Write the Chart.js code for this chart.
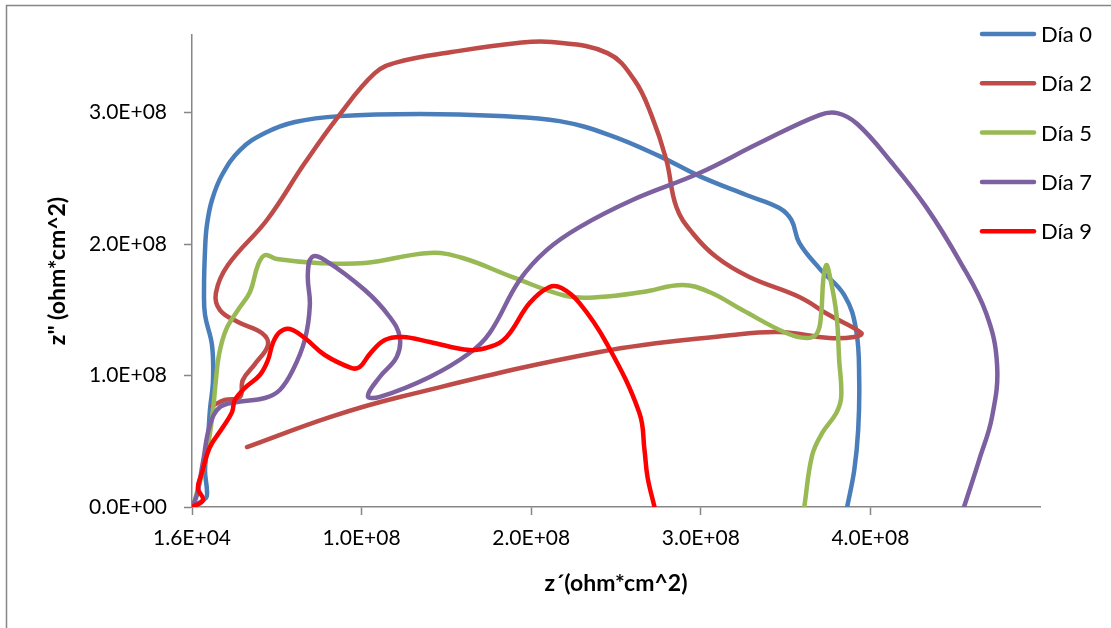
<!DOCTYPE html>
<html>
<head>
<meta charset="utf-8">
<script src="https://cdn.jsdelivr.net/npm/chart.js@4.4.1/dist/chart.umd.min.js"></script>
<style>
    html, body { margin: 0; padding: 0; background: #ffffff; }
    #chart { display: block; }
</style>
</head>
<body>
<canvas id="chart" width="1111" height="628"></canvas>
<script>
// Nyquist data: z' (x) and z" (y), ohm*cm^2
const seriesNames = ['Día 0', 'Día 2', 'Día 5', 'Día 7', 'Día 9'];
const seriesColors = ['#4a7ebb', '#be4b48', '#98b954', '#7d60a0', '#ff0000'];

const dia0X = [0.006e8, 0.082e8, 0.088e8, 0.077e8, 0.094e8, 0.106e8, 0.124e8, 0.118e8, 0.077e8, 0.071e8, 0.077e8, 0.088e8, 0.118e8, 0.177e8, 0.283e8, 0.430e8, 0.607e8, 0.872e8, 1.343e8, 1.814e8, 2.167e8, 2.462e8, 2.756e8, 2.992e8, 3.269e8, 3.463e8, 3.534e8, 3.581e8, 3.698e8, 3.846e8, 3.916e8, 3.934e8, 3.928e8, 3.905e8, 3.863e8];
const dia0Y = [0.008e8, 0.068e8, 0.129e8, 0.281e8, 0.510e8, 0.738e8, 0.966e8, 1.232e8, 1.460e8, 1.650e8, 1.954e8, 2.144e8, 2.335e8, 2.525e8, 2.715e8, 2.844e8, 2.928e8, 2.973e8, 2.989e8, 2.973e8, 2.935e8, 2.829e8, 2.669e8, 2.517e8, 2.373e8, 2.274e8, 2.183e8, 2.008e8, 1.817e8, 1.612e8, 1.346e8, 0.966e8, 0.586e8, 0.281e8, 0];

const dia2X = [0.118e8, 0.194e8, 0.283e8, 0.300e8, 0.371e8, 0.448e8, 0.412e8, 0.271e8, 0.165e8, 0.141e8, 0.212e8, 0.442e8, 0.665e8, 0.860e8, 1.078e8, 1.213e8, 1.531e8, 1.920e8, 2.120e8, 2.450e8, 2.609e8, 2.709e8, 2.797e8, 2.856e8, 2.951e8, 3.092e8, 3.286e8, 3.581e8, 3.757e8, 3.946e8, 3.905e8, 3.757e8, 3.463e8, 3.186e8, 2.403e8, 1.225e8, 0.813e8, 0.324e8];
const dia2Y = [0.768e8, 0.814e8, 0.837e8, 0.966e8, 1.087e8, 1.232e8, 1.323e8, 1.407e8, 1.498e8, 1.627e8, 1.840e8, 2.183e8, 2.616e8, 2.966e8, 3.300e8, 3.384e8, 3.460e8, 3.529e8, 3.536e8, 3.452e8, 3.247e8, 2.981e8, 2.639e8, 2.281e8, 2.084e8, 1.901e8, 1.749e8, 1.597e8, 1.460e8, 1.323e8, 1.293e8, 1.285e8, 1.331e8, 1.308e8, 1.179e8, 0.837e8, 0.684e8, 0.456e8];

const dia5X = [0.012e8, 0.065e8, 0.100e8, 0.124e8, 0.141e8, 0.159e8, 0.200e8, 0.271e8, 0.342e8, 0.389e8, 0.430e8, 0.501e8, 0.742e8, 1.019e8, 1.402e8, 1.596e8, 1.890e8, 2.208e8, 2.403e8, 2.656e8, 2.892e8, 3.051e8, 3.245e8, 3.504e8, 3.622e8, 3.686e8, 3.710e8, 3.722e8, 3.740e8, 3.757e8, 3.799e8, 3.816e8, 3.828e8, 3.799e8, 3.716e8, 3.657e8, 3.610e8];
const dia5Y = [0.030e8, 0.281e8, 0.510e8, 0.738e8, 0.966e8, 1.156e8, 1.346e8, 1.498e8, 1.635e8, 1.840e8, 1.916e8, 1.886e8, 1.856e8, 1.856e8, 1.932e8, 1.894e8, 1.749e8, 1.605e8, 1.597e8, 1.635e8, 1.688e8, 1.635e8, 1.498e8, 1.323e8, 1.285e8, 1.323e8, 1.475e8, 1.726e8, 1.840e8, 1.779e8, 1.475e8, 1.118e8, 0.837e8, 0.715e8, 0.563e8, 0.395e8, 0];

const dia7X = [0.006e8, 0.029e8, 0.065e8, 0.106e8, 0.165e8, 0.265e8, 0.430e8, 0.518e8, 0.595e8, 0.665e8, 0.695e8, 0.683e8, 0.707e8, 0.783e8, 1.019e8, 1.166e8, 1.225e8, 1.207e8, 1.107e8, 1.037e8, 1.107e8, 1.402e8, 1.637e8, 1.755e8, 1.932e8, 2.091e8, 2.285e8, 2.597e8, 2.992e8, 3.345e8, 3.699e8, 3.805e8, 3.923e8, 4.128e8, 4.329e8, 4.523e8, 4.682e8, 4.747e8, 4.717e8, 4.641e8, 4.552e8];
const dia7Y = [0.015e8, 0.091e8, 0.342e8, 0.624e8, 0.760e8, 0.798e8, 0.829e8, 0.890e8, 1.042e8, 1.270e8, 1.536e8, 1.764e8, 1.901e8, 1.878e8, 1.650e8, 1.445e8, 1.293e8, 1.141e8, 0.989e8, 0.844e8, 0.837e8, 0.989e8, 1.171e8, 1.323e8, 1.726e8, 1.954e8, 2.129e8, 2.335e8, 2.540e8, 2.768e8, 2.981e8, 2.996e8, 2.913e8, 2.616e8, 2.281e8, 1.878e8, 1.475e8, 1.080e8, 0.684e8, 0.357e8, 0];

const dia9X = [0.002e8, 0.065e8, 0.035e8, 0.059e8, 0.106e8, 0.183e8, 0.236e8, 0.253e8, 0.312e8, 0.400e8, 0.448e8, 0.477e8, 0.518e8, 0.577e8, 0.665e8, 0.783e8, 0.942e8, 0.989e8, 1.048e8, 1.137e8, 1.243e8, 1.402e8, 1.637e8, 1.755e8, 1.855e8, 1.991e8, 2.108e8, 2.179e8, 2.285e8, 2.444e8, 2.638e8, 2.668e8, 2.686e8, 2.727e8];
const dia9Y = [0, 0.053e8, 0.144e8, 0.259e8, 0.456e8, 0.608e8, 0.722e8, 0.814e8, 0.905e8, 1.004e8, 1.118e8, 1.247e8, 1.331e8, 1.354e8, 1.285e8, 1.156e8, 1.057e8, 1.065e8, 1.163e8, 1.270e8, 1.293e8, 1.255e8, 1.194e8, 1.217e8, 1.293e8, 1.551e8, 1.673e8, 1.665e8, 1.551e8, 1.247e8, 0.715e8, 0.433e8, 0.228e8, 0];

const seriesX = [dia0X, dia2X, dia5X, dia7X, dia9X];
const seriesY = [dia0Y, dia2Y, dia5Y, dia7Y, dia9Y];

// axis ticks (Excel style: min 1.6E+04, major unit 1E+08)
const xTicks = [1.6e4, 1.00016e8, 2.00016e8, 3.00016e8, 4.00016e8];
const yTicks = [0, 1e8, 2e8, 3e8];
const xTitle = 'z´(ohm*cm^2)';
const yTitle = 'z" (ohm*cm^2)';

const FONT = 'Lato, "Open Sans", sans-serif';
const AXIS_GREY = '#868686';

// 1.0e+8 -> 1.0E+08
const sci = (v) => {
    const [m, e] = v.toExponential(1).split('e');
    const n = Math.abs(parseInt(e, 10));
    return m + 'E' + (e[0] === '-' ? '-' : '+') + (n < 10 ? '0' + n : n);
};

/////////////////////////////// plugins //////////////////////////////////
const frame = {
    id: 'frame',
    beforeDraw: (chart) => {
        const ctx = chart.ctx;
        ctx.save();
        ctx.fillStyle = '#ffffff';
        ctx.fillRect(0, 0, chart.width, chart.height);
        ctx.strokeStyle = AXIS_GREY;
        ctx.lineWidth = 1.5;
        ctx.beginPath();
        ctx.moveTo(6.5, chart.height + 5);
        ctx.lineTo(6.5, 5.5);
        ctx.lineTo(chart.width + 5, 5.5);
        ctx.stroke();
        ctx.restore();
    }
};

const sideLegend = {
    id: 'sideLegend',
    afterDraw: (chart) => {
        const ctx = chart.ctx;
        ctx.save();
        ctx.font = '22px ' + FONT;
        ctx.textBaseline = 'middle';
        ctx.lineCap = 'round';
        chart.data.datasets.forEach((ds, i) => {
            const y = 34 + i * 49.3;
            ctx.strokeStyle = ds.borderColor;
            ctx.lineWidth = 4.5;
            ctx.beginPath();
            ctx.moveTo(982, y);
            ctx.lineTo(1034, y);
            ctx.stroke();
            ctx.fillStyle = '#000000';
            ctx.fillText(ds.label, 1041, y + 1);
        });
        ctx.restore();
    }
};

/////////////////////////////// chart //////////////////////////////////
const datasets = seriesNames.map((name, i) => ({
    label: name,
    data: seriesX[i].map((x, k) => ({ x: x, y: seriesY[i][k] })),
    borderColor: seriesColors[i],
    backgroundColor: seriesColors[i],
    borderWidth: 4.5,
    borderCapStyle: 'round',
    borderJoinStyle: 'round',
    showLine: true,
    pointRadius: 0,
    pointHoverRadius: 0,
    tension: 0.4,
    fill: false,
    order: seriesNames.length - i
}));

new Chart(document.getElementById('chart').getContext('2d'), {
    type: 'scatter',
    data: { datasets: datasets },
    options: {
        responsive: false,
        animation: false,
        layout: { padding: { left: 0, top: 35, right: 71, bottom: 0 } },
        scales: {
            x: {
                type: 'linear',
                min: 1.6e4,
                max: 5e8,
                afterBuildTicks: (scale) => { scale.ticks = xTicks.map(v => ({ value: v })); },
                afterFit: (scale) => { scale.height = 121; },
                border: { display: true, color: AXIS_GREY, width: 1.5 },
                grid: { drawOnChartArea: false, drawTicks: true, tickLength: 8, tickColor: AXIS_GREY, tickWidth: 1.5 },
                ticks: {
                    autoSkip: false,
                    maxRotation: 0,
                    padding: 11,
                    color: '#000000',
                    font: { family: FONT, size: 21 },
                    callback: (v) => sci(v)
                },
                title: {
                    display: true,
                    text: xTitle,
                    color: '#000000',
                    font: { family: FONT, size: 23, weight: 'bold' },
                    padding: { top: 0, bottom: 31 }
                }
            },
            y: {
                type: 'linear',
                min: 0,
                max: 3.59e8,
                afterBuildTicks: (scale) => { scale.ticks = yTicks.map(v => ({ value: v })); },
                afterFit: (scale) => { scale.width = 192; },
                border: { display: true, color: AXIS_GREY, width: 1.5 },
                grid: { drawOnChartArea: false, drawTicks: true, tickLength: 8, tickColor: AXIS_GREY, tickWidth: 1.5 },
                ticks: {
                    autoSkip: false,
                    padding: 17,
                    color: '#000000',
                    font: { family: FONT, size: 21 },
                    callback: (v) => sci(v)
                },
                title: {
                    display: true,
                    text: yTitle,
                    color: '#000000',
                    font: { family: FONT, size: 23, weight: 'bold' },
                    padding: { top: 44, bottom: 0 }
                }
            }
        },
        plugins: {
            legend: { display: false },
            tooltip: { enabled: false }
        }
    },
    plugins: [frame, sideLegend]
});
</script>
</body>
</html>
